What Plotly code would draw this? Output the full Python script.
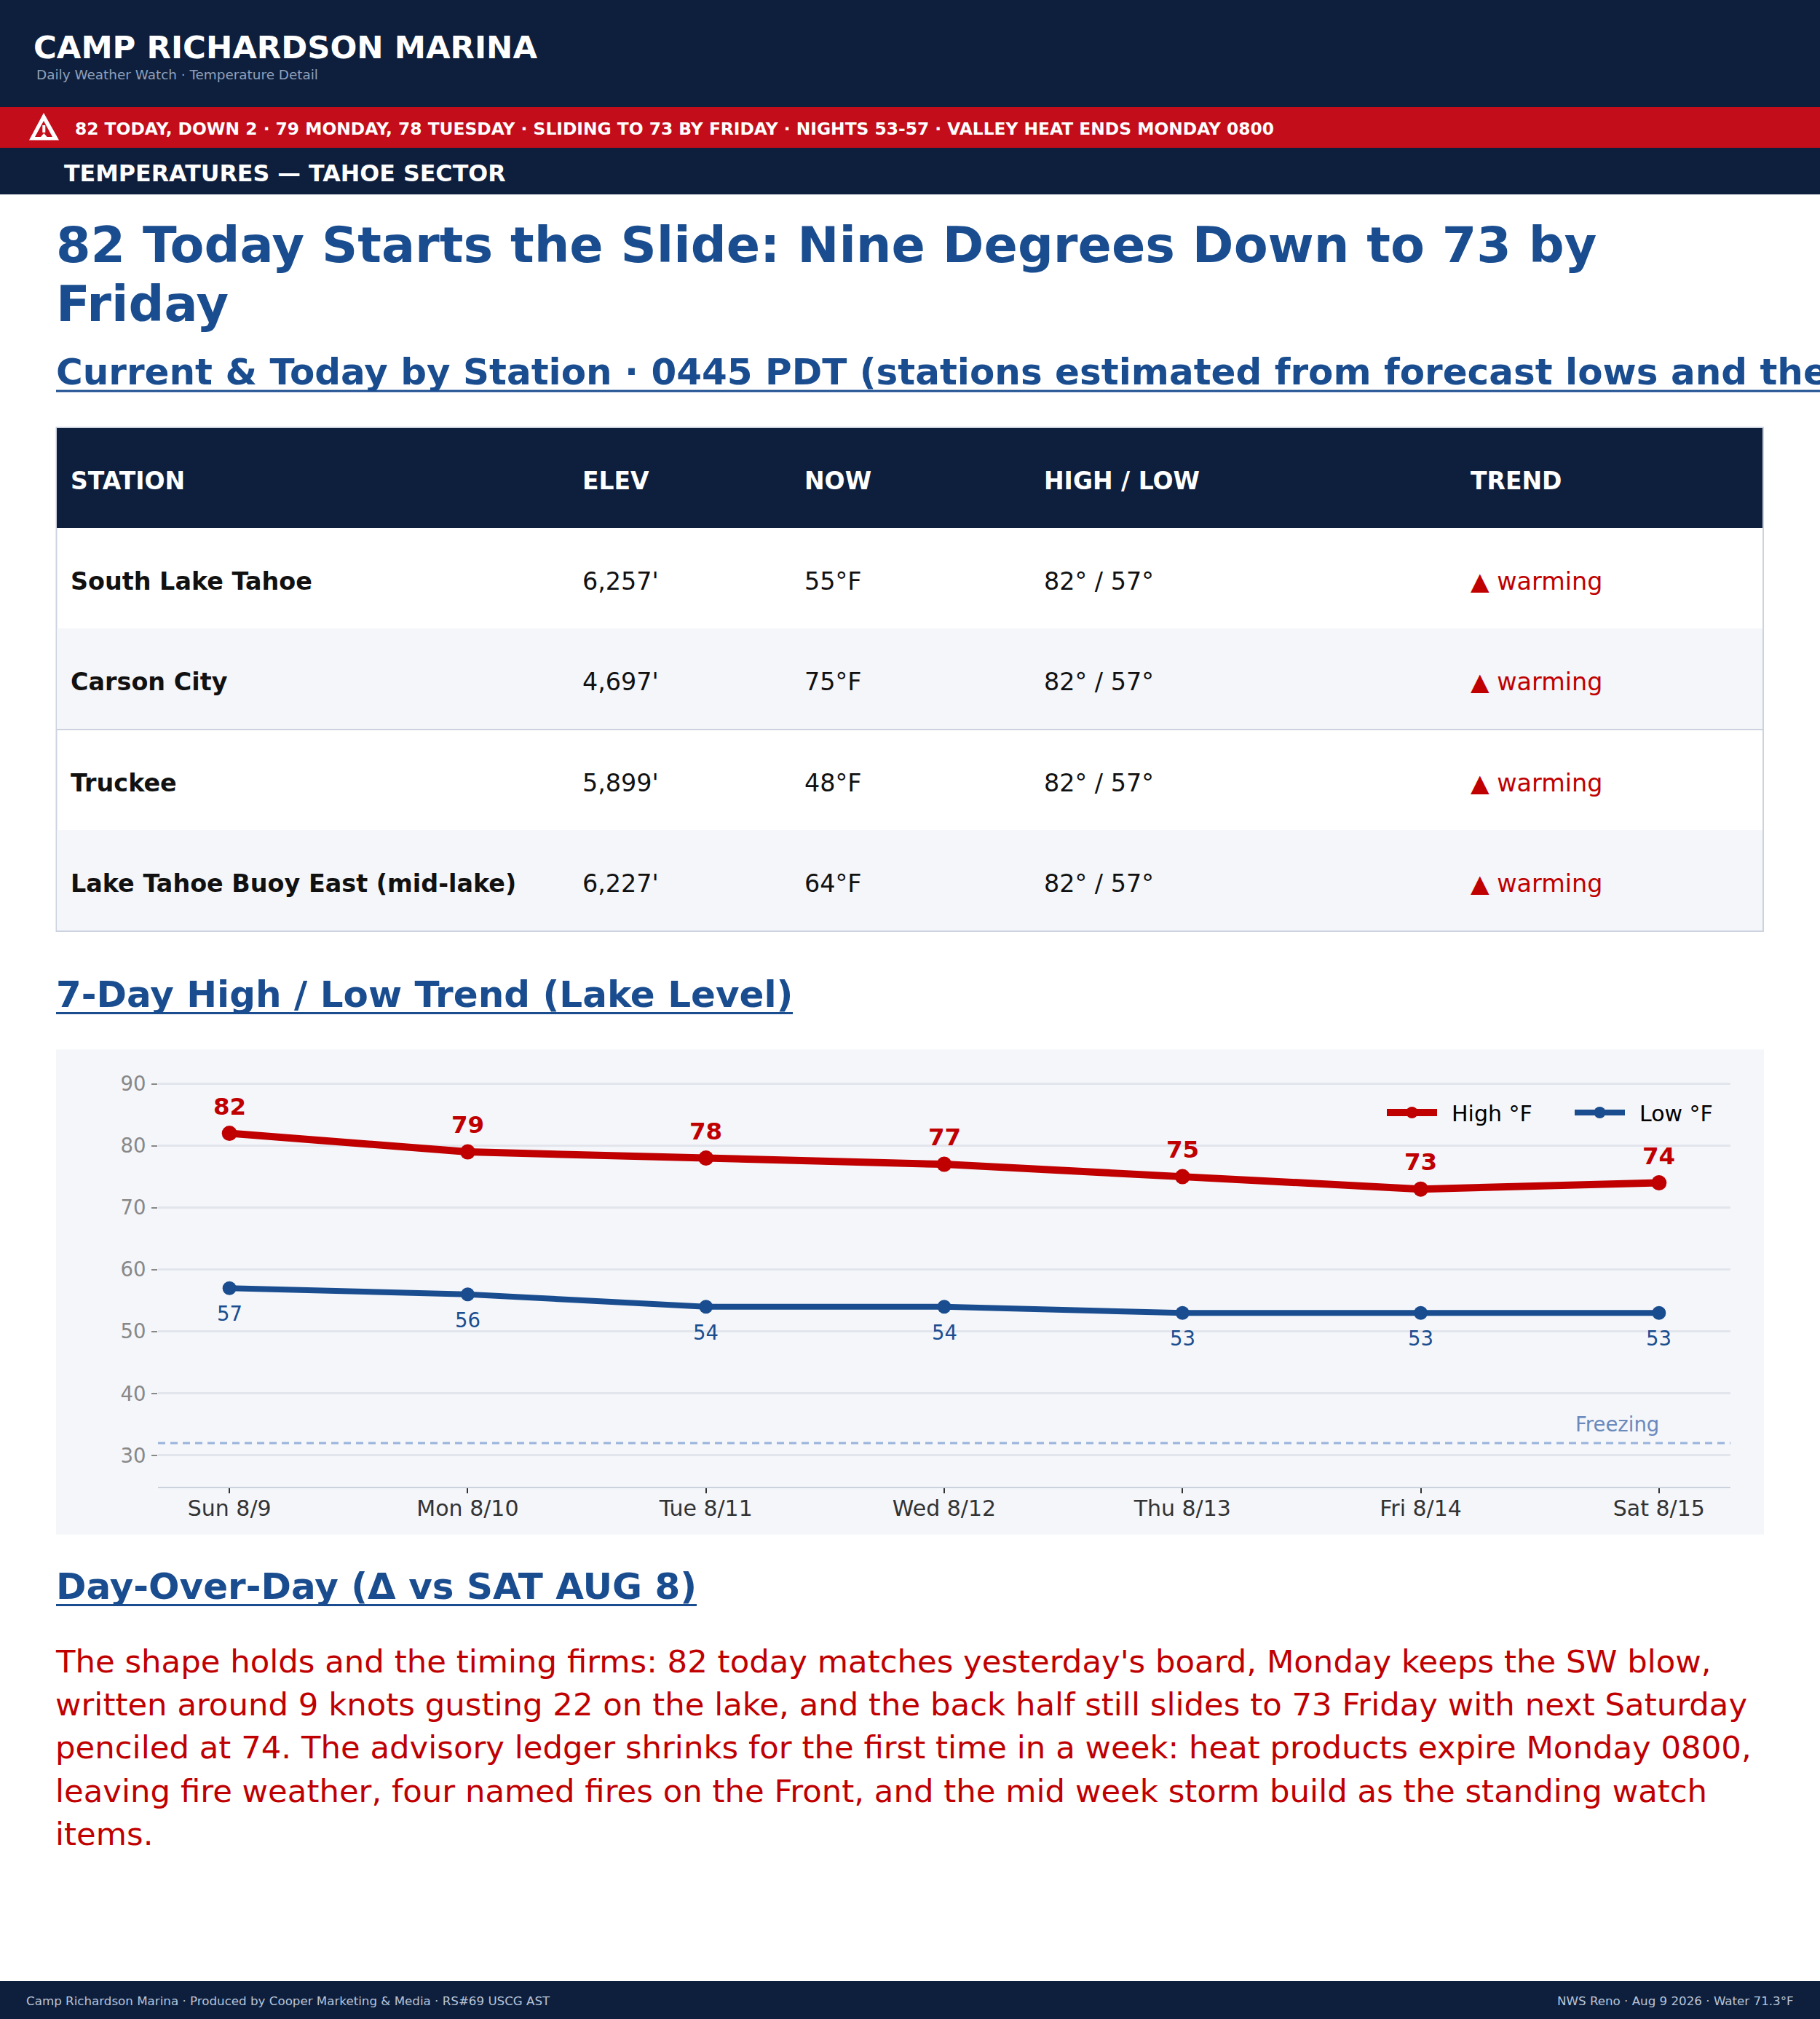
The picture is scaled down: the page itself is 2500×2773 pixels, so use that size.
import plotly.graph_objects as go

W, H = 2500, 2773
NAVY = "#0e1f3d"; RED = "#c40d1a"; CRIM = "#c00000"; BLUE = "#1a4d8f"; PANEL = "#f4f6fa"
FONT = "DejaVu Sans"

DAYS = ["Sun 8/9", "Mon 8/10", "Tue 8/11", "Wed 8/12", "Thu 8/13", "Fri 8/14", "Sat 8/15"]
HIGHS = [82, 79, 78, 77, 75, 73, 74]
LOWS = [57, 56, 54, 54, 53, 53, 53]
FREEZING = 32
Y_TICKS = [30, 40, 50, 60, 70, 80, 90]

STATIONS = ["South Lake Tahoe", "Carson City", "Truckee", "Lake Tahoe Buoy East (mid-lake)"]
ELEVS = ["6,257'", "4,697'", "5,899'", "6,227'"]
NOWS = ["55°F", "75°F", "48°F", "64°F"]
HILOS = ["82° / 57°", "82° / 57°", "82° / 57°", "82° / 57°"]
TRENDS = ["▲ warming", "▲ warming", "▲ warming", "▲ warming"]
COLUMNS = ["STATION", "ELEV", "NOW", "HIGH / LOW", "TREND"]

BRAND = "CAMP RICHARDSON MARINA"
TAGLINE = "Daily Weather Watch · Temperature Detail"
ALERT = "82 TODAY, DOWN 2 · 79 MONDAY, 78 TUESDAY · SLIDING TO 73 BY FRIDAY · NIGHTS 53-57 · VALLEY HEAT ENDS MONDAY 0800"
SECTOR = "TEMPERATURES — TAHOE SECTOR"
HEAD_LINES = ["82 Today Starts the Slide: Nine Degrees Down to 73 by", "Friday"]
SEC1 = "Current & Today by Station · 0445 PDT (stations estimated from forecast lows and the"
SEC2 = "7-Day High / Low Trend (Lake Level)"
SEC3 = "Day-Over-Day (Δ vs SAT AUG 8)"
BODY_LINES = [
    "The shape holds and the timing firms: 82 today matches yesterday's board, Monday keeps the SW blow,",
    "written around 9 knots gusting 22 on the lake, and the back half still slides to 73 Friday with next Saturday",
    "penciled at 74. The advisory ledger shrinks for the first time in a week: heat products expire Monday 0800,",
    "leaving fire weather, four named fires on the Front, and the mid week storm build as the standing watch",
    "items.",
]
FOOT_L = "Camp Richardson Marina · Produced by Cooper Marketing & Media · RS#69 USCG AST"
FOOT_R = "NWS Reno · Aug 9 2026 · Water 71.3°F"

def fx(p): return p / W
def fy(p): return 1 - p / H

shapes, notes = [], []

def rect(x0, y0, x1, y1, fill, line=None, lw=0):
    shapes.append(dict(type="rect", xref="paper", yref="paper", x0=fx(x0), x1=fx(x1), y0=fy(y0), y1=fy(y1),
                       fillcolor=fill, line=dict(color=line or fill, width=lw), layer="below"))

def poly(points, fill):
    d = "M " + " L ".join(f"{fx(a):.5f},{fy(b):.5f}" for a, b in points) + " Z"
    shapes.append(dict(type="path", xref="paper", yref="paper", path=d, fillcolor=fill, line=dict(width=0), layer="below"))

def text(s, x, y, size, color, bold=False, anchor="left"):
    notes.append(dict(text=f"<b>{s}</b>" if bold else s, x=fx(x), y=fy(y), xref="paper", yref="paper",
                      xanchor=anchor, yanchor="middle", showarrow=False,
                      font=dict(family=FONT, size=size, color=color), borderpad=0, borderwidth=0))

# page bands
rect(0, 0, W, 147, NAVY)
rect(0, 147, W, 203, RED)
rect(0, 203, W, 267, NAVY)
rect(0, 2721, W, H, NAVY)

# alert icon
poly([(60, 155), (81, 192.5), (40, 192.5)], "#ffffff")
poly([(60, 166), (72, 188), (48, 188)], RED)
rect(58.3, 172, 62.3, 182, "#ffffff")
poly([(60.3, 183), (65, 188.5), (55.5, 188.5)], "#ffffff")

text(BRAND, 46, 65, 43.4, "#ffffff", True)
text(TAGLINE, 50, 102, 18.4, "#8fa0bb")
text(ALERT, 103, 177, 23.35, "#ffffff", True)
text(SECTOR, 88, 238, 31.7, "#ffffff", True)
text(HEAD_LINES[0], 77, 336, 68.4, BLUE, True)
text(HEAD_LINES[1], 77, 418, 68.4, BLUE, True)

# section headings with rules
text(SEC1, 77, 511, 50, BLUE, True)
rect(77, 535.5, W, 538.5, BLUE)
text(SEC2, 77, 1366, 50, BLUE, True)
rect(77, 1390, 1089, 1393, BLUE)
text(SEC3, 77, 2179, 50, BLUE, True)
rect(77, 2203, 957, 2206, BLUE)

# station table
COL_X = [97, 800, 1105, 1434, 2020]
ROW_TOPS = [725, 863, 1002, 1140]
ROW_H = 138.5
TS = 33.4
rect(77.5, 587, 2422, 1279, "#ffffff", "#ccd3df", 2)
rect(78, 588, 2421, 725, NAVY)
rect(78, 863, 2421, 1002, PANEL)
rect(78, 1140, 2421, 1278, PANEL)
rect(78, 1001, 2421, 1003, "#ccd3df")
for cx, c in zip(COL_X, COLUMNS):
    text(c, cx, 660, 33, "#ffffff", True)
for i, top in enumerate(ROW_TOPS):
    cy = top + ROW_H / 2 + 4.5
    text(STATIONS[i], COL_X[0], cy, TS, "#111111", True)
    text(ELEVS[i], COL_X[1], cy, TS, "#111111")
    text(NOWS[i], COL_X[2], cy, TS, "#111111")
    text(HILOS[i], COL_X[3], cy, TS, "#111111")
    text(TRENDS[i], COL_X[4], cy, TS, CRIM)

# chart panel
rect(77, 1441.5, 2423, 2107.5, PANEL)

# body copy
for i, line in enumerate(BODY_LINES):
    text(line, 76, 2282 + i * 59.2, 43.4, CRIM)

# footer
text(FOOT_L, 36, 2748, 16.7, "#b8c4d8")
text(FOOT_R, 2464, 2748, 16.7, "#b8c4d8", False, "right")

fig = go.Figure()
fig.add_trace(go.Scatter(x=DAYS, y=HIGHS, name="\u2002High °F", mode="lines+markers",
                         line=dict(color=CRIM, width=10), marker=dict(color=CRIM, size=21), cliponaxis=False))
fig.add_trace(go.Scatter(x=DAYS, y=LOWS, name="\u2002Low °F", mode="lines+markers",
                         line=dict(color=BLUE, width=8), marker=dict(color=BLUE, size=19), cliponaxis=False))

for d, v in zip(DAYS, HIGHS):
    notes.append(dict(text=f"<b>{v}</b>", xref="x", yref="y", x=d, y=v, yshift=37, yanchor="middle", showarrow=False,
                      font=dict(family=FONT, size=32.5, color=CRIM)))
for d, v in zip(DAYS, LOWS):
    notes.append(dict(text=str(v), xref="x", yref="y", x=d, y=v, yshift=-35, yanchor="middle", showarrow=False,
                      font=dict(family=FONT, size=27.5, color=BLUE)))

shapes.append(dict(type="line", xref="x domain", yref="y", x0=0, x1=1, y0=FREEZING, y1=FREEZING,
                   line=dict(color="#9ab3dc", width=3, dash="10px,7px"), layer="above"))
notes.append(dict(text="Freezing", xref="x", yref="y", x=6, y=FREEZING, xanchor="right", yanchor="bottom", yshift=8, xshift=2,
                  showarrow=False, font=dict(family=FONT, size=27.5, color="#6a89bd")))

fig.update_layout(
    width=W, height=H, margin=dict(l=0, r=0, t=0, b=0, autoexpand=False), autosize=False,
    paper_bgcolor="#ffffff", plot_bgcolor="rgba(0,0,0,0)", font=dict(family=FONT),
    hovermode=False, shapes=shapes, annotations=notes,
    xaxis=dict(domain=[fx(217), fx(2377)], range=[-0.3, 6.3], type="category", categoryorder="array", categoryarray=DAYS,
               showgrid=False, zeroline=False, showline=True, linecolor="#ccd2dc", linewidth=2,
               ticks="outside", ticklen=7, tickwidth=2, tickcolor="#333333", ticklabelstandoff=-5,
               tickfont=dict(family=FONT, size=30, color="#333333")),
    yaxis=dict(domain=[fy(2041.5), fy(1486.8)], range=[25, 90.2], tickvals=Y_TICKS, showgrid=True, gridcolor="#e2e5ec", gridwidth=3,
               zeroline=False, showline=False, ticks="outside", ticklen=8, tickwidth=2, tickcolor="#888888", ticklabelstandoff=2,
               tickfont=dict(family=FONT, size=27.5, color="#888888")),
    legend=dict(orientation="h", x=fx(1900), xanchor="left", y=fy(1528), yanchor="middle", bgcolor="rgba(0,0,0,0)",
                font=dict(family=FONT, size=30, color="#000000"), itemwidth=69, traceorder="normal",
                entrywidth=174, entrywidthmode="pixels"),
)

fig.write_html("out.html", config=dict(displayModeBar=False),
               post_script="document.body.style.margin='0';document.body.style.overflow='hidden';")
